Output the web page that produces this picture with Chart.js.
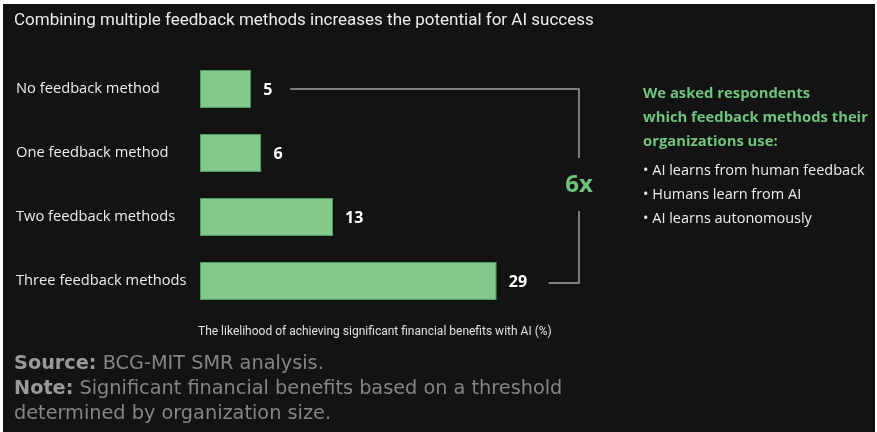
<!DOCTYPE html>
<html>
<head>
<meta charset="utf-8">
<script src="https://cdn.jsdelivr.net/npm/chart.js@4"></script>
<style>
  html, body { margin: 0; padding: 0; background: #fff; }
  #wrap { position: relative; width: 877px; height: 432px; overflow: hidden; }
  #bg { position: absolute; left: 3px; top: 4px; right: 2px; bottom: 0; background: #131313; }
  #chartBox { position: absolute; left: 0; top: 0; width: 877px; height: 432px; }
  .txt { position: absolute; white-space: nowrap; }
  #title { left: 14px; top: 9px; font: 17px Roboto, sans-serif; color: #ececec; }
  #note { left: 643px; top: 80px; font: 14.5px "Open Sans", sans-serif; line-height: 24px; }
  #note .head { color: #6fc47e; font-weight: bold; font-size: 14.8px; }
  #note .item { color: #ececec; }
  #axisTitle { left: 198px; top: 324px; font: 12px Roboto, sans-serif; color: #e0e0e0; }
  #source { left: 14px; top: 350px; font: 19.3px "DejaVu Sans", sans-serif; color: #858585; line-height: 25px; }
  #source b { color: #9a9a9a; }
</style>
</head>
<body>
<div id="wrap">
  <div id="bg"></div>
  <div id="chartBox"><canvas id="barChart"></canvas></div>
  <div class="txt" id="title">Combining multiple feedback methods increases the potential for AI success</div>
  <div class="txt" id="note">
    <div class="head">We asked respondents</div>
    <div class="head">which feedback methods their</div>
    <div class="head">organizations use:</div>
    <div class="item" style="margin-top:6px">• AI learns from human feedback</div>
    <div class="item">• Humans learn from AI</div>
    <div class="item">• AI learns autonomously</div>
  </div>
  <div class="txt" id="axisTitle">The likelihood of achieving significant financial benefits with AI (%)</div>
  <div class="txt" id="source">
    <div><b>Source:</b> BCG-MIT SMR analysis.</div>
    <div><b>Note:</b> Significant financial benefits based on a threshold</div>
    <div>determined by organization size.</div>
  </div>
</div>
<script>
const categories = ['No feedback method', 'One feedback method', 'Two feedback methods', 'Three feedback methods'];
const likelihood = [5, 6, 13, 29];

// value labels next to the bars + the "6x" bracket
const extras = {
    id: 'extras',
    afterDatasetsDraw(chart) {
        const ctx = chart.ctx;
        const meta = chart.getDatasetMeta(0);
        const yScale = chart.scales.y;
        ctx.save();
        ctx.fillStyle = '#ffffff';
        ctx.font = 'bold 16px "Open Sans", sans-serif';
        ctx.textBaseline = 'middle';
        meta.data.forEach(function (bar, i) {
            ctx.fillText(likelihood[i], bar.x + 12, bar.y + 1);
        });

        const first = meta.data[0];
        const last = meta.data[meta.data.length - 1];
        const yTop = yScale.getPixelForValue(0);
        const yBot = yScale.getPixelForValue(categories.length - 1) + 2;
        const xStart = first.x + 39;
        const xRight = 579;
        const xEndBot = last.x + 52;
        const yMid = (yTop + yBot) / 2 - 1;

        ctx.strokeStyle = '#a3a3a3';
        ctx.lineWidth = 1.5;
        ctx.beginPath();
        ctx.moveTo(xStart, yTop);
        ctx.lineTo(xRight, yTop);
        ctx.lineTo(xRight, yMid - 27);
        ctx.moveTo(xRight, yMid + 26);
        ctx.lineTo(xRight, yBot);
        ctx.lineTo(xEndBot, yBot);
        ctx.stroke();

        const ratio = Math.round(likelihood[likelihood.length - 1] / likelihood[0]);
        ctx.fillStyle = '#6fc47e';
        ctx.font = 'bold 24px "Open Sans", sans-serif';
        ctx.textAlign = 'center';
        ctx.fillText(ratio + 'x', xRight, yMid);
        ctx.restore();
    }
};

new Chart(document.getElementById('barChart'), {
    type: 'bar',
    data: {
        labels: categories,
        datasets: [{
            data: likelihood,
            backgroundColor: '#82c98c',
            borderColor: '#4e9a5d',
            borderWidth: 1,
            borderSkipped: false,
            barPercentage: 0.59,
            categoryPercentage: 1,
        }],
    },
    options: {
        indexAxis: 'y',
        responsive: true,
        maintainAspectRatio: false,
        animation: false,
        layout: { padding: { left: 16, top: 57, bottom: 119, right: 63 } },
        plugins: {
            legend: { display: false },
            tooltip: { enabled: false },
        },
        scales: {
            x: { display: false, min: 0, max: 60 },
            y: {
                grid: { display: false },
                border: { display: false },
                afterFit: function (scale) { scale.width = 184; },
                ticks: {
                    color: '#ececec',
                    crossAlign: 'far',
                    font: { family: '"Open Sans", sans-serif', size: 14.7 },
                },
            },
        },
    },
    plugins: [extras],
});
</script>
</body>
</html>
